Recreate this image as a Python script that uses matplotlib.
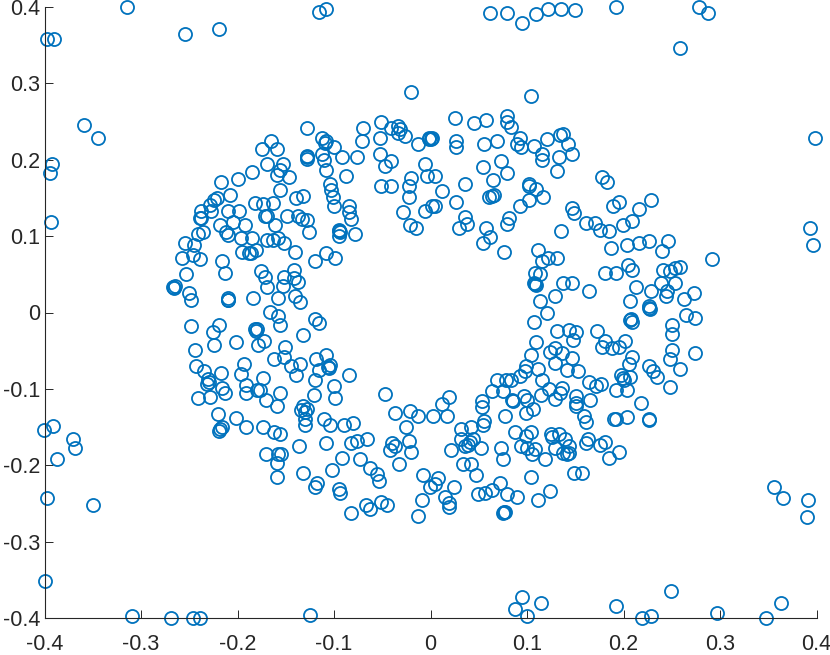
import numpy as np
import matplotlib
matplotlib.use("Agg")
import matplotlib.pyplot as plt

# values, (x, y) per region
upper_left = [
    (-0.019,0.289),(-0.128,0.241),(-0.112,0.228),(-0.108,0.224),(-0.109,0.222),(-0.100,0.217),
    (-0.069,0.241),(-0.071,0.224),(-0.051,0.249),(-0.052,0.229),(-0.040,0.242),(-0.033,0.244),
    (-0.031,0.240),(-0.033,0.235),(-0.026,0.231),(-0.012,0.220),(-0.001,0.228),(-0.001,0.227),
    (-0.052,0.208),(-0.040,0.199),(-0.047,0.192),(-0.005,0.194),(-0.003,0.179),(-0.020,0.176),
    (-0.022,0.166),(-0.051,0.165),(-0.040,0.165),(-0.022,0.151),(-0.028,0.131),(-0.005,0.133),
    (-0.021,0.115),(-0.014,0.110),(0.002,0.139),(-0.165,0.224),(-0.175,0.214),(-0.159,0.214),
    (-0.170,0.194),(-0.185,0.184),(-0.200,0.175),(-0.217,0.171),(-0.153,0.194),(-0.156,0.187),
    (-0.159,0.180),(-0.147,0.177),(-0.156,0.161),(-0.128,0.205),(-0.128,0.203),(-0.128,0.201),
    (-0.112,0.207),(-0.110,0.200),(-0.108,0.187),(-0.091,0.203),(-0.076,0.203),(-0.087,0.179),
    (-0.104,0.168),(-0.103,0.160),(-0.101,0.151),(-0.100,0.140),(-0.084,0.140),(-0.084,0.131),
    (-0.082,0.122),(-0.078,0.103),(-0.094,0.108),(-0.095,0.107),(-0.093,0.106),(-0.094,0.100),
    (-0.139,0.150),(-0.132,0.152),(-0.149,0.126),(-0.137,0.127),(-0.133,0.122),(-0.128,0.121),
    (-0.161,0.115),(-0.126,0.105),(-0.163,0.143),(-0.182,0.143),(-0.174,0.142),(-0.172,0.126),
    (-0.170,0.126),(-0.208,0.154),(-0.222,0.150),(-0.225,0.147),(-0.229,0.141),(-0.228,0.133),
    (-0.238,0.133),(-0.239,0.124),(-0.238,0.124),(-0.210,0.133),(-0.199,0.133),(-0.205,0.118),
    (-0.218,0.115),(-0.192,0.115),(-0.212,0.106),(-0.210,0.101),(-0.197,0.098),(-0.185,0.098),
    (-0.241,0.103),(-0.236,0.105),(-0.255,0.091),(-0.246,0.088),(-0.170,0.095),(-0.163,0.095),
    (-0.158,0.098),(-0.152,0.091),(-0.140,0.079),(-0.119,0.068),(-0.108,0.078),(-0.099,0.072),
    (-0.196,0.079),(-0.188,0.078),(-0.181,0.082),(-0.186,0.078),(-0.247,0.075),(-0.258,0.072),
    (-0.239,0.070),(-0.216,0.068),(-0.213,0.052),(-0.254,0.050),(-0.267,0.034),(-0.265,0.035),
    (-0.266,0.032),(-0.251,0.025),(-0.249,0.017),(-0.210,0.019),(-0.210,0.017),(-0.210,0.016),
    (-0.184,0.019),(-0.176,0.054),(-0.172,0.047),(-0.169,0.034),(-0.152,0.047),(-0.153,0.035),
    (-0.141,0.056),(-0.141,0.045),(-0.137,0.040),(-0.140,0.022),(-0.135,0.014),(-0.158,0.019),
]
upper_right = [
    (0.106,0.283),(0.026,0.255),(0.046,0.248),(0.059,0.252),(0.080,0.257),(0.081,0.249),
    (0.085,0.243),(0.094,0.228),(0.091,0.220),(0.095,0.217),(0.109,0.218),(0.122,0.227),
    (0.136,0.232),(0.139,0.234),(0.144,0.220),(0.148,0.208),(0.135,0.203),(0.117,0.208),
    (0.117,0.200),(0.133,0.185),(0.027,0.224),(0.027,0.217),(0.057,0.220),(0.070,0.224),
    (0.074,0.199),(0.055,0.190),(0.080,0.182),(0.066,0.173),(0.037,0.168),(0.013,0.159),
    (0.027,0.145),(0.062,0.151),(0.065,0.153),(0.067,0.154),(0.103,0.168),(0.103,0.166),
    (0.111,0.162),(0.118,0.151),(0.103,0.147),(0.094,0.140),(0.083,0.124),(0.080,0.116),
    (0.137,0.107),(0.037,0.125),(0.039,0.116),(0.030,0.110),(0.059,0.110),(0.063,0.099),
    (0.055,0.091),(0.077,0.079),(0.002,0.229),(0.001,0.227),(0.005,0.179),(0.005,0.140),
    (0.179,0.178),(0.185,0.171),(0.191,0.140),(0.197,0.145),(0.230,0.147),(0.218,0.136),
    (0.211,0.120),(0.201,0.114),(0.148,0.137),(0.150,0.130),(0.163,0.117),(0.172,0.117),
    (0.177,0.108),(0.187,0.107),(0.189,0.084),(0.205,0.089),(0.218,0.091),(0.228,0.093),
    (0.248,0.093),(0.242,0.081),(0.294,0.070),(0.113,0.082),(0.123,0.072),(0.117,0.068),
    (0.133,0.072),(0.110,0.052),(0.115,0.050),(0.110,0.037),(0.111,0.036),(0.109,0.038),
    (0.139,0.038),(0.148,0.038),(0.166,0.028),(0.131,0.021),(0.115,0.015),(0.183,0.052),
    (0.194,0.052),(0.207,0.062),(0.211,0.056),(0.243,0.056),(0.250,0.054),(0.255,0.058),
    (0.261,0.060),(0.215,0.033),(0.230,0.028),(0.241,0.038),(0.256,0.038),(0.247,0.028),
    (0.246,0.021),(0.265,0.018),(0.275,0.026),(0.209,0.015),(0.228,0.006),(0.228,0.008),
    (0.229,0.004),
]
lower_left = [
    (-0.249,-0.018),(-0.226,-0.026),(-0.219,-0.016),(-0.225,-0.042),(-0.202,-0.039),(-0.245,-0.049),
    (-0.182,-0.021),(-0.180,-0.022),(-0.181,-0.024),(-0.179,-0.042),(-0.173,-0.037),(-0.166,0.001),
    (-0.158,-0.004),(-0.156,-0.016),(-0.132,-0.030),(-0.119,-0.009),(-0.115,-0.014),(-0.151,-0.045),
    (-0.152,-0.058),(-0.162,-0.061),(-0.145,-0.070),(-0.135,-0.067),(-0.139,-0.082),(-0.193,-0.067),
    (-0.197,-0.080),(-0.243,-0.070),(-0.235,-0.076),(-0.217,-0.079),(-0.231,-0.087),(-0.232,-0.093),
    (-0.230,-0.091),(-0.216,-0.099),(-0.213,-0.105),(-0.241,-0.112),(-0.229,-0.110),(-0.174,-0.086),
    (-0.191,-0.095),(-0.191,-0.105),(-0.180,-0.102),(-0.177,-0.102),(-0.171,-0.115),(-0.156,-0.105),
    (-0.159,-0.122),(-0.118,-0.061),(-0.108,-0.056),(-0.115,-0.075),(-0.104,-0.069),(-0.106,-0.072),
    (-0.105,-0.073),(-0.084,-0.082),(-0.119,-0.088),(-0.100,-0.096),(-0.121,-0.108),(-0.099,-0.112),
    (-0.132,-0.122),(-0.128,-0.127),(-0.134,-0.128),(-0.130,-0.130),(-0.130,-0.139),(-0.130,-0.147),
    (-0.110,-0.140),(-0.104,-0.147),(-0.089,-0.147),(-0.080,-0.145),(-0.047,-0.107),(-0.036,-0.131),
    (-0.021,-0.129),(-0.012,-0.136),(-0.025,-0.150),(-0.022,-0.168),(-0.019,-0.182),(-0.039,-0.171),
    (-0.036,-0.175),(-0.041,-0.180),(-0.032,-0.199),(-0.007,-0.213),(-0.008,-0.245),(-0.012,-0.266),
    (-0.221,-0.133),(-0.202,-0.138),(-0.191,-0.150),(-0.174,-0.150),(-0.162,-0.156),(-0.156,-0.159),
    (-0.216,-0.150),(-0.218,-0.153),(-0.219,-0.155),(-0.136,-0.175),(-0.108,-0.171),(-0.082,-0.171),
    (-0.076,-0.168),(-0.065,-0.166),(-0.171,-0.185),(-0.158,-0.185),(-0.155,-0.185),(-0.159,-0.197),
    (-0.159,-0.215),(-0.132,-0.210),(-0.091,-0.191),(-0.102,-0.206),(-0.073,-0.192),(-0.062,-0.203),
    (-0.055,-0.212),(-0.053,-0.220),(-0.117,-0.223),(-0.119,-0.228),(-0.094,-0.231),(-0.093,-0.236),
    (-0.082,-0.262),(-0.066,-0.252),(-0.062,-0.257),(-0.051,-0.248),(-0.045,-0.252),
]
lower_right = [
    (0.109,-0.012),(0.122,0.000),(0.133,-0.024),(0.145,-0.023),(0.152,-0.025),(0.149,-0.036),
    (0.174,-0.024),(0.210,-0.009),(0.209,-0.010),(0.211,-0.012),(0.267,-0.003),(0.276,-0.007),
    (0.252,-0.016),(0.252,-0.028),(0.252,-0.049),(0.276,-0.053),(0.250,-0.061),(0.261,-0.074),
    (0.228,-0.070),(0.233,-0.076),(0.237,-0.085),(0.250,-0.098),(0.211,-0.058),(0.208,-0.067),
    (0.199,-0.082),(0.201,-0.086),(0.202,-0.088),(0.209,-0.085),(0.206,-0.102),(0.194,-0.102),
    (0.220,-0.119),(0.228,-0.139),(0.228,-0.141),(0.206,-0.137),(0.192,-0.140),(0.194,-0.140),
    (0.203,-0.037),(0.197,-0.045),(0.190,-0.047),(0.183,-0.037),(0.179,-0.045),(0.111,-0.039),
    (0.105,-0.056),(0.130,-0.047),(0.125,-0.052),(0.138,-0.053),(0.148,-0.060),(0.131,-0.066),
    (0.143,-0.075),(0.154,-0.077),(0.100,-0.070),(0.099,-0.077),(0.094,-0.083),(0.113,-0.074),
    (0.117,-0.088),(0.085,-0.088),(0.079,-0.089),(0.070,-0.088),(0.076,-0.103),(0.065,-0.103),
    (0.116,-0.108),(0.124,-0.100),(0.138,-0.099),(0.136,-0.106),(0.130,-0.113),(0.098,-0.109),
    (0.101,-0.114),(0.086,-0.115),(0.087,-0.116),(0.108,-0.126),(0.100,-0.131),(0.078,-0.136),
    (0.054,-0.116),(0.054,-0.124),(0.020,-0.110),(0.013,-0.120),(0.018,-0.136),(0.003,-0.136),
    (0.057,-0.142),(0.055,-0.147),(0.043,-0.150),(0.033,-0.153),(0.033,-0.165),(0.045,-0.165),
    (0.042,-0.169),(0.037,-0.175),(0.040,-0.174),(0.022,-0.180),(0.053,-0.178),(0.035,-0.199),
    (0.043,-0.199),(0.048,-0.213),(0.074,-0.177),(0.076,-0.192),(0.089,-0.156),(0.105,-0.156),
    (0.100,-0.162),(0.095,-0.175),(0.101,-0.177),(0.110,-0.179),(0.107,-0.185),(0.120,-0.192),
    (0.126,-0.159),(0.127,-0.163),(0.135,-0.159),(0.141,-0.165),(0.130,-0.177),(0.145,-0.175),
    (0.139,-0.184),(0.143,-0.185),(0.145,-0.184),(0.152,-0.109),(0.152,-0.119),(0.152,-0.123),
    (0.167,-0.115),(0.161,-0.136),(0.163,-0.144),(0.166,-0.091),(0.173,-0.096),(0.178,-0.094),
    (0.165,-0.165),(0.163,-0.171),(0.177,-0.174),(0.183,-0.170),(0.197,-0.182),(0.187,-0.190),
    (0.150,-0.210),(0.159,-0.210),(0.105,-0.215),(0.125,-0.234),(0.113,-0.246),(0.073,-0.223),
    (0.065,-0.232),(0.058,-0.236),(0.050,-0.238),(0.081,-0.238),(0.091,-0.241),(0.077,-0.261),
    (0.076,-0.262),(0.078,-0.261),(0.025,-0.229),(0.009,-0.217),(0.005,-0.224),(0.000,-0.228),
    (0.016,-0.242),(0.020,-0.249),(0.020,-0.255),
]
outliers = [
    (-0.315,0.400),(-0.399,0.358),(-0.391,0.358),(-0.255,0.364),(-0.219,0.371),(-0.115,0.393),
    (-0.108,0.397),(0.063,0.392),(0.081,0.392),(0.096,0.379),(0.111,0.391),(0.123,0.397),
    (0.137,0.397),(0.151,0.396),(0.194,0.400),(0.280,0.400),(0.290,0.392),(0.261,0.346),
    (-0.360,0.245),(-0.346,0.229),(-0.393,0.194),(-0.396,0.183),(-0.395,0.119),(0.401,0.229),
    (0.396,0.111),(0.399,0.089),(-0.402,-0.154),(-0.392,-0.149),(-0.372,-0.166),(-0.369,-0.178),
    (-0.388,-0.192),(-0.399,-0.243),(-0.351,-0.252),(-0.401,-0.351),(-0.310,-0.397),(-0.269,-0.400),
    (-0.247,-0.400),(-0.239,-0.400),(-0.125,-0.396),(0.089,-0.388),(0.096,-0.372),(0.101,-0.398),
    (0.116,-0.381),(0.194,-0.384),(0.221,-0.400),(0.231,-0.397),(0.251,-0.365),(0.299,-0.393),
    (0.350,-0.400),(0.366,-0.381),(0.359,-0.228),(0.368,-0.243),(0.394,-0.246),(0.393,-0.268),
]
ticks = [-0.4, -0.3, -0.2, -0.1, 0, 0.1, 0.2, 0.3, 0.4]
tick_labels = ['-0.4', '-0.3', '-0.2', '-0.1', '0', '0.1', '0.2', '0.3', '0.4']

plt.rcParams['font.family'] = ['Liberation Sans', 'DejaVu Sans']

pts = np.array(upper_left + upper_right + lower_left + lower_right + outliers)
# x readings were taken against a slightly off scale, correct them to the real ticks
pts[:, 0] = pts[:, 0] * 960 / 965 - 0.0008

W, H = 830, 655
fig = plt.figure(figsize=(W / 100, H / 100), dpi=100)
ax = fig.add_axes([44.5 / W, (H - 618) / H, 772 / W, 611 / H])
ax.plot(pts[:, 0], pts[:, 1], linestyle='none', marker='o', markersize=9.4,
        markerfacecolor='none', markeredgecolor='#0072BD', markeredgewidth=1.3, clip_on=False)

ax.set_xlim(-0.4, 0.4)
ax.set_ylim(-0.4, 0.4)
ax.set_xticks(ticks)
ax.set_xticklabels(tick_labels)
ax.set_yticks(ticks)
ax.set_yticklabels(tick_labels)
ax.tick_params(direction='in', length=5.5, width=0.7, color='#262626', labelcolor='#262626',
               labelsize=15.5)
ax.tick_params(axis='x', pad=11.5)
ax.tick_params(axis='y', pad=3)
ax.spines['top'].set_visible(False)
ax.spines['right'].set_visible(False)
ax.spines['left'].set_color('#262626')
ax.spines['bottom'].set_color('#262626')
ax.spines['left'].set_linewidth(0.8)
ax.spines['bottom'].set_linewidth(0.8)

fig.savefig('out.png', dpi=100)
